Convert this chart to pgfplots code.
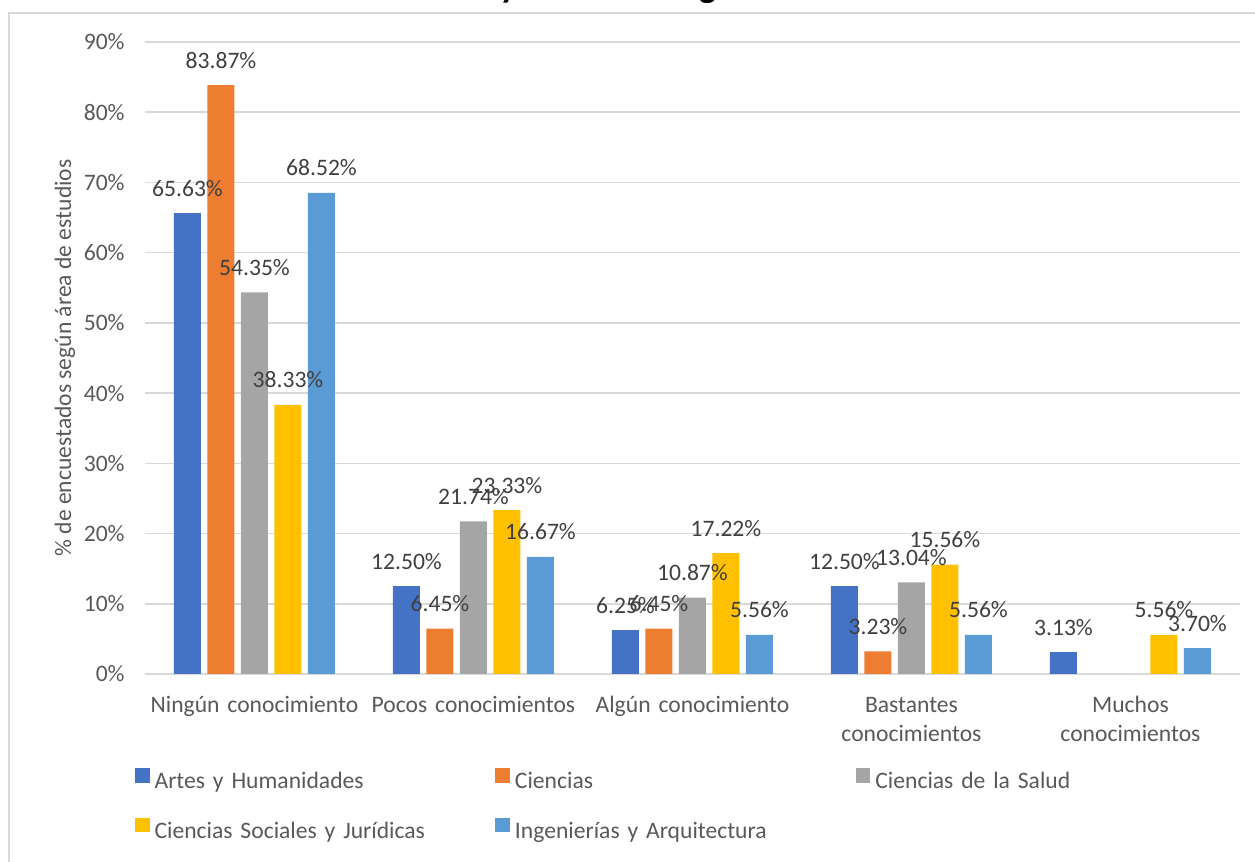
\documentclass[border=0pt]{standalone}
\usepackage{pgfplots}
\pgfplotsset{compat=1.18}
\usepackage{fontspec}
\setmainfont{Carlito}
\definecolor{cA}{HTML}{4472C4}
\definecolor{cB}{HTML}{ED7D31}
\definecolor{cC}{HTML}{A5A5A5}
\definecolor{cD}{HTML}{FFC000}
\definecolor{cE}{HTML}{5B9BD5}
\definecolor{gridc}{HTML}{D9D9D9}
\definecolor{txt}{HTML}{595959}
\definecolor{lbl}{HTML}{404040}
\newcommand{\lf}{\fontsize{11.8}{14.5}\selectfont}
\begin{document}
\begin{tikzpicture}
\begin{axis}[name=ax,
  scale only axis, width=547.5pt, height=316pt,
  xmin=-0.5, xmax=4.5, ymin=0, ymax=90,
  ybar=3.25pt, bar width=13.5pt,
  axis line style={draw=none},
  ymajorgrids, grid style={color=gridc, line width=0.75pt},
  major tick length=0pt,
  xtick={0,1,2,3,4},
  xticklabels={Ningún conocimiento, Pocos conocimientos, Algún conocimiento, Bastantes\\conocimientos, Muchos\\conocimientos},
  xticklabel style={anchor=north, text width=115pt, align=center, font=\lf, color=txt, inner sep=0pt, yshift=-8.85pt, execute at begin node={\strut}},
  ytick={0,10,20,30,40,50,60,70,80,90},
  yticklabels={0\%,10\%,20\%,30\%,40\%,50\%,60\%,70\%,80\%,90\%},
  yticklabel style={font=\lf, color=txt, inner sep=0pt, xshift=-10pt},
  ylabel={\% de encuestados según área de estudios},
  ylabel style={at={(axis description cs:-0.0731,0.5)}, rotate=0, anchor=center, font=\lf, color=txt},
  /pgf/number format/assume math mode=true,
  nodes near coords={\pgfmathprintnumber[fixed,fixed zerofill,precision=2]{\pgfplotspointmeta}\%},
  every node near coord/.append style={anchor=base, yshift=8.5pt, inner sep=0pt, font=\lf, color=lbl},
  legend columns=3,
  legend cell align=left,
  legend image code/.code={\fill[#1] (0pt,0pt) rectangle (7.3pt,7.3pt);},
  legend style={draw=none, fill=none, inner sep=0pt, outer sep=0pt,
    at={(axis description cs:0,0)}, anchor=north west, xshift=-5pt, yshift=-47pt,
    font=\lf, text=txt, row sep=12pt,
    nodes={text width=170.4pt, align=left, inner sep=0pt, text height=8.5pt, text depth=2.5pt},
    /tikz/every odd column/.append style={column sep=2.5pt},
    /tikz/every even column/.append style={column sep=0pt}},
]
\addplot[fill=cA, draw=none] coordinates {(0,65.63) (1,12.50) (2,6.25) (3,12.50) (4,3.13)};
\addplot[fill=cB, draw=none] coordinates {(0,83.87) (1,6.45) (2,6.45) (3,3.23)};
\addplot[fill=cC, draw=none] coordinates {(0,54.35) (1,21.74) (2,10.87) (3,13.04)};
\addplot[fill=cD, draw=none] coordinates {(0,38.33) (1,23.33) (2,17.22) (3,15.56) (4,5.56)};
\addplot[fill=cE, draw=none] coordinates {(0,68.52) (1,16.67) (2,5.56) (3,5.56) (4,3.70)};
\legend{Artes y Humanidades, Ciencias, Ciencias de la Salud, Ciencias Sociales y Jurídicas, Ingenierías y Arquitectura}
\end{axis}
\draw[color=gridc, line width=0.75pt] (ax.south west) ++(-68pt,-200pt) -- ++(0pt,530.5pt) -- ++(700pt,0pt);
\path (ax.south west) ++(432pt,338pt) node[anchor=base east, inner sep=0pt, font=\bfseries\fontsize{18}{20}\selectfont, color=black] {Conocimiento de GHG y su sector según área de estudios};
\pgfresetboundingbox
\path[use as bounding box] (ax.south west) ++(-72.5pt,-94pt) rectangle ++(627.5pt,431pt);
\end{tikzpicture}
\end{document}
